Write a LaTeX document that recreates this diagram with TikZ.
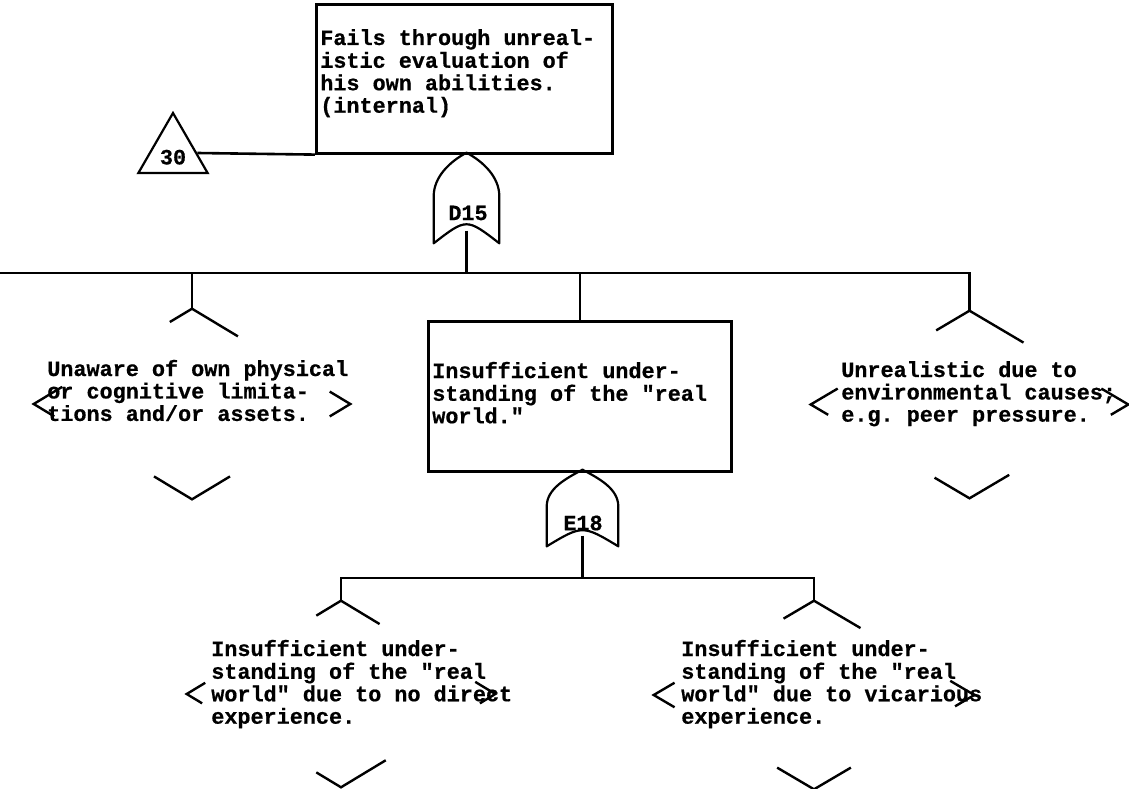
\documentclass[tikz,border=0pt]{standalone}
\usepackage{fontspec}
\newfontfamily\typewriter{Liberation Mono Bold}[FakeBold=0.6]
\usetikzlibrary{calc,shapes.geometric}

% left-aligned block of typed lines, baseline at the first line
\newcommand\txtblock[1]{\begin{tabular}[t]{@{}l@{}}#1\end{tabular}}

% OR gate outline drawn inside the bounding node #1
\newcommand\orgate[1]{%
  \draw[gateline]
    (#1.south west) -- ($(#1.south west)!0.52!(#1.north west)$)
    to[out=90, in=208, looseness=0.9] (#1.north)
    to[out=-28, in=90, looseness=0.9] ($(#1.south east)!0.52!(#1.north east)$)
    -- (#1.south east)
    .. controls ($(#1.south)!0.28!(#1.north)$) .. (#1.south west) -- cycle;
  \coordinate (#1-out) at ($(#1.south)!0.14!(#1.north)$);
}

% undeveloped event: only the corners of the diamond are drawn
% #2/#3 top arms, #4/#5 left arms, #6/#7 right arms, #8/#9 bottom arms
\newcommand\undev[9]{%
  \draw[evline] ($(#1.north)!#2!(#1.west)$) -- (#1.north) -- ($(#1.north)!#3!(#1.east)$);
  \draw[evline] ($(#1.west)!#4!(#1.north)$) -- (#1.west) -- ($(#1.west)!#5!(#1.south)$);
  \draw[evline] ($(#1.east)!#6!(#1.north)$) -- (#1.east) -- ($(#1.east)!#7!(#1.south)$);
  \draw[evline] ($(#1.south)!#8!(#1.west)$) -- (#1.south) -- ($(#1.south)!#9!(#1.east)$);
}

\tikzset{
  typed/.style={font=\typewriter\frenchspacing\fontsize{21.8}{22.2}\selectfont},
  faultbox/.style={draw, rectangle, anchor=north west, inner sep=0pt},
  evtext/.style={typed, anchor=base west, inner sep=0pt},
  gate/.style={rectangle, inner sep=0pt},
  gatelabel/.style={typed, inner sep=0pt},
  gateline/.style={line width=2.2pt, line join=round},
  evline/.style={line width=2.4pt, line join=miter},
  event/.style={rectangle, inner sep=0pt},
  transfer/.style={draw, regular polygon, regular polygon sides=3, minimum size=80pt,
                   inner sep=0pt, typed, text height=23pt, line width=2.2pt},
}

\begin{document}
\begin{tikzpicture}[x=1pt, y=-1pt, line width=2.6pt]
\path[use as bounding box, fill=white] (0,0) rectangle (1129,789);

% top event and its transfer
\node[faultbox, minimum width=296pt, minimum height=149pt] (top) at (315,3) {};
\node[evtext] (top-t) at (319,45)
  {\txtblock{Fails through unreal-\\istic evaluation of\\his own abilities.\\(internal)}};
\node[transfer] (t30) at (173,153) {30};
\draw (t30.east) -- (top.south west);

% gate D15
\node[gate, minimum width=63pt, minimum height=88pt] (d15) at (466.5,198) {};
\orgate{d15}
\node[gatelabel] (d15-l) at (468,213) {D15};

% main branch bar
\coordinate (barL) at (0,273);
\draw (d15-out) -- (d15-out |- barL);

% three inputs of D15
\node[event, minimum width=314pt, minimum height=188pt] (ua) at (192,404) {};
\node[faultbox, minimum width=303pt, minimum height=150pt] (mid) at (427,320) {};
\node[event, minimum width=315pt, minimum height=185pt] (ue) at (969.5,404.5) {};

\draw (barL) -- (barL -| ue.north) -- (ue.north);
\draw (ua.north |- barL) -- (ua.north);
\draw (mid.north |- barL) -- (mid.north);

\undev{ua}{0.14}{0.29}{0.18}{0.13}{0.13}{0.13}{0.24}{0.24}
\undev{ue}{0.21}{0.34}{0.17}{0.11}{0.17}{0.11}{0.22}{0.25}

\node[evtext] (ua-t) at (46,376)
  {\txtblock{Unaware of own physical\\or cognitive limita-\\tions and/or assets.}};
\node[evtext] (mid-t) at (431,378)
  {\txtblock{Insufficient under-\\standing of the "real\\world."}};
\node[evtext] (ue-t) at (840,377)
  {\txtblock{Unrealistic due to\\environmental causes;\\e.g. peer pressure.}};

% gate E18
\node[gate, minimum width=69pt, minimum height=74pt] (e18) at (582.5,508) {};
\orgate{e18}
\node[gatelabel] (e18-l) at (583,523) {E18};

% inputs of E18
\coordinate (lowbar) at (583,578);
\node[event, minimum width=306pt, minimum height=184pt] (ll) at (341,694) {};
\node[event, minimum width=318pt, minimum height=186pt] (lr) at (814,695) {};
\draw (e18-out) -- (e18-out |- lowbar);
\draw (ll.north) -- (ll.north |- lowbar) -- (lr.north |- lowbar) -- (lr.north);

\undev{ll}{0.16}{0.25}{0.12}{0.10}{0.13}{0.10}{0.16}{0.29}
\undev{lr}{0.19}{0.29}{0.13}{0.13}{0.15}{0.12}{0.23}{0.23}

\node[evtext] (ll-t) at (210,656)
  {\txtblock{Insufficient under-\\standing of the "real\\world" due to no direct\\experience.}};
\node[evtext] (lr-t) at (680,656)
  {\txtblock{Insufficient under-\\standing of the "real\\world" due to vicarious\\experience.}};
\end{tikzpicture}
\end{document}
